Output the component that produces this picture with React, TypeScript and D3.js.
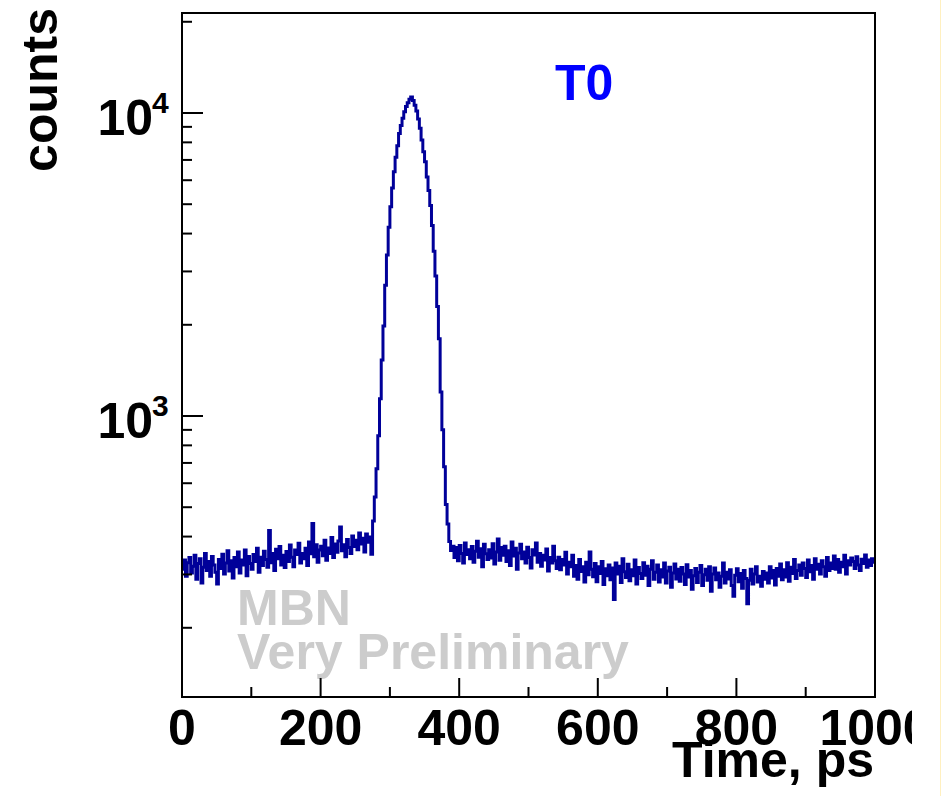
import React from "react";
import * as d3 from "d3";

// Histogram: 400 bins of 2.5 ps from 0 to 1000 ps
const binWidth = 2.5;
const baselineLeft: number[] = [
  312, 335, 296, 328, 341, 303, 319, 347, 289, 326,
  338, 281, 317, 352, 309, 331, 296, 344, 322, 305,
  279, 336, 314, 350, 301, 327, 359, 308, 333, 292,
  341, 318, 356, 303, 335, 322, 361, 297, 344, 326,
  312, 349, 331, 366, 305, 342, 321, 358, 336, 317,
  419, 328, 352, 309, 363, 338, 371, 322, 347, 316,
  357, 331, 375, 342, 318, 361, 349, 380, 327, 352,
  338, 366, 321, 384, 351, 442, 343, 376, 329, 361,
  372, 346, 389, 334, 367, 352, 397, 341, 378, 355,
  387, 430, 359, 376, 343, 391, 368, 352, 402, 371,
  389, 362, 411, 378, 395, 356, 408, 383, 399, 350,
];
const peak: number[] = [
  450, 540, 670, 860, 1140, 1530, 1980, 2700, 3400, 4200,
  4900, 5650, 6400, 7150, 7800, 8550, 9100, 9600, 10100, 10500,
  10800, 11100, 11300, 11000, 10600, 10150, 9550, 8900, 8150, 7450,
  6900, 6150, 5550, 4950, 4250, 3500, 2900, 2300, 1800, 1200,
  900, 680, 510, 440, 385, 360, 372,
];
const baselineRight: number[] = [
  341, 368, 333, 374, 352, 327, 381, 349, 362, 338,
  371, 329, 358, 386, 342, 365, 318, 377, 351, 336,
  362, 340, 379, 325, 356, 393, 334, 368, 347, 372,
  331, 359, 321, 384, 345, 366, 312, 353, 377, 338,
  356, 327, 369, 341, 315, 362, 348, 381, 329, 352,
  319, 347, 335, 364, 308, 341, 327, 372, 333, 314,
  342, 311, 336, 322, 355, 301, 329, 318, 347, 296,
  321, 289, 336, 307, 318, 283, 329, 299, 356, 312,
  295, 326, 284, 318, 302, 331, 278, 313, 297, 322,
  288, 315, 248, 327, 301, 319, 282, 338, 306, 293,
  324, 286, 311, 297, 335, 279, 316, 302, 291, 328,
  298, 319, 276, 312, 333, 289, 305, 322, 283, 311,
  294, 327, 281, 308, 317, 272, 303, 325, 290, 312,
  285, 316, 301, 278, 323, 294, 309, 268, 297, 314,
  282, 305, 321, 276, 299, 312, 287, 318, 264, 301,
  315, 288, 303, 272, 296, 327, 281, 305, 290, 311,
  276, 254, 298, 313, 284, 302, 270, 309, 291, 240,
  287, 312, 279, 301, 318, 283, 296, 274, 307, 289,
  303, 281, 318, 292, 309, 277, 314, 296, 325, 288,
  311, 294, 328, 285, 317, 302, 336, 291, 309, 322,
  298, 327, 314, 293, 335, 306, 321, 289, 338, 312,
  324, 301, 333, 318, 296, 341, 309, 327, 314, 345,
  312, 336, 305, 329, 318, 347, 301, 333, 322, 340,
  331, 314, 343, 322, 309, 337, 326, 348, 317, 335,
  321, 338, 329,
];
const counts: number[] = [...baselineLeft, ...peak, ...baselineRight];

const xMajorTicks = [0, 200, 400, 600, 800, 1000];
const xMinorTicks = [100, 300, 500, 700, 900];
const yMajorTicks = [1000, 10000];
const yMinorTicks = [200, 300, 400, 500, 600, 700, 800, 900, 2000, 3000, 4000, 5000, 6000, 7000, 8000, 9000, 20000];
const yMajorExp = ["3", "4"];

const W = 941;
const H = 796;
const L = 182, R = 875, T = 13, B = 697;
const FONT = "'Liberation Sans', Arial, Helvetica, sans-serif";
const FS = 50;

export default function App() {
  const x = d3.scaleLinear().domain([0, 1000]).range([L, R]);
  const y = d3.scaleLog().domain([118.2, 21380]).range([B, T]);

  const pts: [number, number][] = [];
  counts.forEach((c, i) => {
    pts.push([i * binWidth, c]);
    pts.push([(i + 1) * binWidth, c]);
  });
  const line = d3
    .line<[number, number]>()
    .x((d) => x(d[0]))
    .y((d) => y(d[1]));

  return (
    <svg width={W} height={H} style={{ position: "absolute", left: 0, top: 0, background: "#fff" }} fontFamily={FONT}>
      <defs>
        <clipPath id="frame">
          <rect x={L} y={T} width={R - L} height={B - T} />
        </clipPath>
        <clipPath id="canvas">
          <rect x={0} y={0} width={912} height={H} />
        </clipPath>
      </defs>
      <rect x={0} y={0} width={W} height={H} fill="#fff" />
      <line x1={940.5} y1={0} x2={940.5} y2={H} stroke="#fff0c0" strokeWidth={1} />

      {/* watermark */}
      <text x={237} y={625} fontSize={FS} fontWeight="bold" fill="#cccccc">MBN</text>
      <text x={237} y={669} fontSize={FS} fontWeight="bold" fill="#cccccc">Very Preliminary</text>

      {/* histogram */}
      <path d={line(pts) || ""} fill="none" stroke="#000099" strokeWidth={3} strokeLinejoin="miter" clipPath="url(#frame)" />

      {/* frame */}
      <rect x={L} y={T} width={R - L} height={B - T} fill="none" stroke="#000" strokeWidth={2} />

      {/* x ticks */}
      {xMajorTicks.map((t) => (
        <line key={"xm" + t} x1={x(t)} x2={x(t)} y1={B} y2={B - 19} stroke="#000" strokeWidth={2} />
      ))}
      {xMinorTicks.map((t) => (
        <line key={"xn" + t} x1={x(t)} x2={x(t)} y1={B} y2={B - 10} stroke="#000" strokeWidth={2} />
      ))}
      <g clipPath="url(#canvas)">
        {xMajorTicks.map((t) => (
          <text key={"xl" + t} x={x(t)} y={745} fontSize={FS} fontWeight="bold" textAnchor="middle" fill="#000">
            {t}
          </text>
        ))}
      </g>

      {/* y ticks */}
      {yMajorTicks.map((t) => (
        <line key={"ym" + t} x1={L} x2={L + 21} y1={y(t)} y2={y(t)} stroke="#000" strokeWidth={2} />
      ))}
      {yMinorTicks.map((t) => (
        <line key={"yn" + t} x1={L} x2={L + 10} y1={y(t)} y2={y(t)} stroke="#000" strokeWidth={2} />
      ))}
      {yMajorTicks.map((t, i) => (
        <g key={"yl" + t}>
          <text x={153} y={y(t) + 22} fontSize={FS} fontWeight="bold" textAnchor="end" fill="#000">10</text>
          <text x={152} y={y(t)} fontSize={30} fontWeight="bold" textAnchor="start" fill="#000">{yMajorExp[i]}</text>
        </g>
      ))}

      {/* titles */}
      <text x={874} y={777} fontSize={FS} fontWeight="bold" textAnchor="end" fill="#000">Time, ps</text>
      <text transform="translate(57,8) rotate(-90)" fontSize={FS} fontWeight="bold" textAnchor="end" fill="#000">counts</text>
      <text x={555} y={100} fontSize={FS} fontWeight="bold" fill="#0000ff">T0</text>
    </svg>
  );
}
